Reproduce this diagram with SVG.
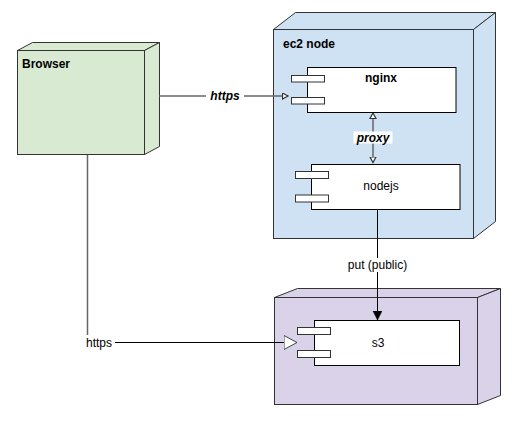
<svg xmlns="http://www.w3.org/2000/svg" width="520" height="424" viewBox="0 0 520 424">
<style>
  text { font-family: "Liberation Sans", Arial, sans-serif; font-size: 12px; fill: #000; }
  .bold { font-weight: bold; }
  .bi { font-weight: bold; font-style: italic; }
  .box { stroke: #333; stroke-width: 1; stroke-linejoin: miter; }
  .green { fill: #d9ead3; }
  .blue { fill: #cfe2f3; }
  .purple { fill: #d9d2e9; }
  .comp { fill: #fff; stroke: #000; stroke-width: 1; }
  .tab { fill: #fff; stroke: #333; stroke-width: 1; }
  .edge { fill: none; stroke-width: 1; }
  .gray { stroke: #666; stroke-width: 1.5; }
  .dark { stroke: #000; }
  .lblbg { fill: #fff; }
</style>
<defs>
  <marker id="openSmall" markerUnits="userSpaceOnUse" markerWidth="10" markerHeight="10" refX="6" refY="3.5" orient="auto">
    <path d="M0.5,0.5 L6,3.5 L0.5,6.5 Z" fill="#fff" stroke="#333" stroke-width="1.2"/>
  </marker>
  <marker id="openSmallStart" markerUnits="userSpaceOnUse" markerWidth="10" markerHeight="10" refX="0.5" refY="3.5" orient="auto">
    <path d="M6,0.5 L0.5,3.5 L6,6.5 Z" fill="#fff" stroke="#333" stroke-width="1.2"/>
  </marker>
  <marker id="filled" markerUnits="userSpaceOnUse" markerWidth="12" markerHeight="12" refX="9" refY="4.5" orient="auto">
    <path d="M0,0 L9,4.5 L0,9 Z" fill="#000" stroke="#000" stroke-width="0.5"/>
  </marker>
  <marker id="openLarge" markerUnits="userSpaceOnUse" markerWidth="16" markerHeight="16" refX="13.5" refY="7.5" orient="auto">
    <path d="M0.5,0.5 L13.5,7.5 L0.5,14.5 Z" fill="#fff" stroke="#444" stroke-width="1"/>
  </marker>
</defs>

<g id="browser">
  <path class="box green" d="M17.5,50.5 L32.5,42.5 L159.5,42.5 L144.5,50.5 Z"/>
  <path class="box green" d="M144.5,50.5 L159.5,42.5 L159.5,146.5 L144.5,154.5 Z"/>
  <rect class="box green" x="17.5" y="50.5" width="127" height="104"/>
  <text class="bold" x="22" y="68">Browser</text>
</g>

<g id="ec2">
  <path class="box blue" d="M273.5,29.5 L295.5,12.5 L495.5,12.5 L473.5,29.5 Z"/>
  <path class="box blue" d="M473.5,29.5 L495.5,12.5 L495.5,221.5 L473.5,238.5 Z"/>
  <rect class="box blue" x="273.5" y="29.5" width="200" height="209"/>
  <text class="bold" x="283" y="48">ec2 node</text>
</g>

<g id="s3node">
  <path class="box purple" d="M274.5,297.5 L297.5,288.5 L500.5,288.5 L477.5,297.5 Z"/>
  <path class="box purple" d="M477.5,297.5 L500.5,288.5 L500.5,395.5 L477.5,404.5 Z"/>
  <rect class="box purple" x="274.5" y="297.5" width="203" height="107"/>
</g>

<g id="nginx">
  <rect class="comp" x="307.5" y="67.5" width="148.5" height="45"/>
  <rect class="tab" x="291.5" y="75.5" width="33" height="6.5"/>
  <rect class="tab" x="291.5" y="97.5" width="33" height="6.5"/>
  <text class="bold" x="381" y="81.5" text-anchor="middle">nginx</text>
</g>

<g id="nodejs">
  <rect class="comp" x="311.5" y="164.5" width="148.5" height="45"/>
  <rect class="tab" x="295.5" y="171.5" width="33" height="7"/>
  <rect class="tab" x="295.5" y="195" width="33" height="7"/>
  <text x="381" y="190" text-anchor="middle">nodejs</text>
</g>

<g id="s3">
  <rect class="comp" x="314.5" y="320.5" width="145" height="45"/>
  <rect class="tab" x="297.5" y="327.5" width="33" height="7"/>
  <rect class="tab" x="297.5" y="350.5" width="33" height="7"/>
  <text x="378" y="347" text-anchor="middle">s3</text>
</g>

<g id="connectors">
  <path class="edge gray" d="M159.5,96 H288" marker-end="url(#openSmall)"/>
  <rect class="lblbg" x="206" y="88" width="38" height="15"/>
  <text class="bi" x="225" y="99.5" text-anchor="middle">https</text>

  <path class="edge gray" d="M373,113 V162.5" marker-start="url(#openSmallStart)" marker-end="url(#openSmall)"/>
  <rect class="lblbg" x="353.5" y="131.5" width="39" height="12"/>
  <text class="bi" x="373" y="142" text-anchor="middle">proxy</text>

  <path class="edge dark" d="M377.5,209.5 V320" marker-end="url(#filled)"/>
  <rect class="lblbg" x="347" y="258" width="61" height="14"/>
  <text x="377.5" y="269" text-anchor="middle">put (public)</text>

  <path class="edge gray" d="M87.5,155 V343" />
  <path class="edge dark" d="M87.5,342.5 H297" marker-end="url(#openLarge)"/>
  <rect class="lblbg" x="84" y="335" width="31" height="15"/>
  <text x="99" y="347" text-anchor="middle">https</text>
</g>
</svg>
